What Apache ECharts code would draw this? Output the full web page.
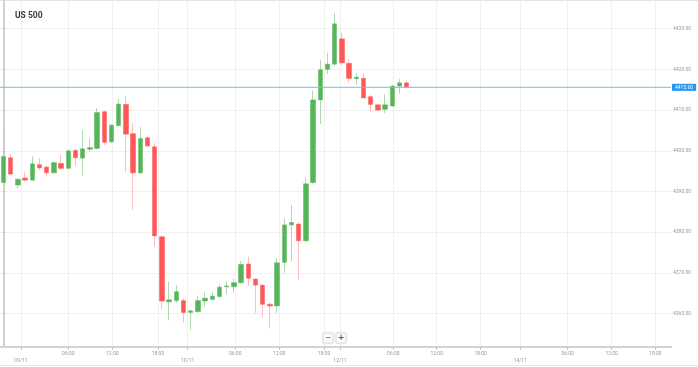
<!DOCTYPE html>
<html>
<head>
<meta charset="utf-8">
<script src="https://cdn.jsdelivr.net/npm/echarts@6/dist/echarts.min.js"></script>
<style>
html,body{margin:0;padding:0;background:#fff;}
#chart{width:698px;height:367px;}
</style>
</head>
<body>
<div id="chart"></div>
<script>
// Hourly candles (index 0 = first visible candle)
const openVals = [4392.2, 4398.3, 4391.6, 4393.3, 4392.8, 4396.6, 4396.0, 4394.6, 4396.9, 4395.7,
  4400.1, 4398.2, 4400.4, 4400.6, 4409.6, 4402.2, 4406.2, 4411.4, 4404.2, 4394.6,
  4403.2, 4401.0, 4378.9, 4362.9, 4363.2, 4363.2, 4360.3, 4360.5, 4363.1, 4363.5,
  4364.2, 4366.6, 4366.6, 4367.6, 4372.2, 4368.5, 4367.0, 4362.3, 4361.9, 4372.6,
  4381.8, 4382.0, 4377.9, 4392.2, 4412.5, 4420.0, 4421.3, 4427.5, 4421.5, 4417.7,
  4417.8, 4413.3, 4411.3, 4410.2, 4411.0, 4415.9, 4416.7];
const closeVals = [4398.6, 4394.3, 4393.0, 4392.8, 4396.8, 4395.8, 4394.6, 4397.1, 4395.7, 4400.0,
  4398.3, 4400.5, 4400.8, 4409.4, 4402.1, 4406.3, 4411.5, 4404.1, 4394.6, 4403.0,
  4401.2, 4379.1, 4363.1, 4363.4, 4365.4, 4360.3, 4360.7, 4363.2, 4363.8, 4364.3,
  4366.5, 4366.8, 4367.6, 4372.1, 4368.7, 4367.0, 4362.3, 4361.9, 4372.5, 4381.8,
  4382.4, 4377.9, 4391.9, 4412.5, 4419.9, 4421.3, 4431.2, 4421.6, 4417.8, 4418.1,
  4413.0, 4411.4, 4410.0, 4411.3, 4415.9, 4416.7, 4415.6];
const lowVals = [4392.0, 4394.0, 4390.8, 4392.4, 4392.6, 4395.3, 4393.8, 4394.5, 4395.3, 4395.5,
  4396.3, 4393.9, 4399.8, 4400.4, 4401.4, 4402.0, 4406.0, 4394.9, 4385.5, 4394.4,
  4400.9, 4376.5, 4361.1, 4358.4, 4362.6, 4357.8, 4356.0, 4360.3, 4361.7, 4363.3,
  4364.0, 4364.7, 4365.2, 4367.4, 4366.8, 4360.2, 4359.0, 4356.4, 4360.2, 4369.9,
  4372.9, 4368.3, 4377.7, 4391.8, 4406.6, 4418.9, 4420.8, 4421.0, 4416.7, 4416.2,
  4412.8, 4409.6, 4409.9, 4409.2, 4410.8, 4414.0, 4415.5];
const highVals = [4405.1, 4399.2, 4393.3, 4394.9, 4398.6, 4398.2, 4396.3, 4397.3, 4399.0, 4400.3,
  4400.4, 4405.1, 4403.0, 4410.5, 4409.9, 4406.5, 4412.7, 4413.5, 4406.8, 4405.8,
  4403.5, 4401.9, 4379.2, 4367.9, 4367.0, 4363.8, 4360.9, 4364.4, 4365.3, 4365.3,
  4367.3, 4367.9, 4368.7, 4373.0, 4374.0, 4368.7, 4367.2, 4362.7, 4373.6, 4383.4,
  4386.7, 4382.4, 4393.3, 4414.9, 4422.3, 4424.1, 4433.9, 4429.0, 4422.5, 4419.0,
  4419.0, 4413.7, 4411.5, 4413.9, 4416.2, 4417.6, 4417.3];

// x-axis ticks (in candle-index units) and their labels
const xTickPos = [2.43, 9.0, 15.11, 21.46, 25.58, 32.19, 38.31, 44.51, 46.74, 54.14, 60.17, 66.28, 71.78, 78.36, 84.47, 90.53];
const xTickLabels = ['09/11', '06:00', '12:00', '18:00', '10/11', '06:00', '12:00', '18:00', '12/11', '06:00', '12:00', '18:00', '14/11', '06:00', '12:00', '18:00'];
// y-axis ticks
const yTicks = [4360, 4370, 4380, 4390, 4400, 4410, 4420, 4430];
const lastPrice = 4415.60;

const xMin = -0.486, xMax = 92.71;
const wickData = openVals.map((o, i) => [i, o, closeVals[i], lowVals[i], highVals[i]]);
const bodyData = openVals.map((o, i) => [i, o, closeVals[i], Math.min(o, closeVals[i]), Math.max(o, closeVals[i])]);

function xLabel(v) {
  for (let k = 0; k < xTickPos.length; k++) {
    if (Math.abs(xTickPos[k] - v) < 1e-6) {
      const t = xTickLabels[k];
      return t.indexOf('/') >= 0 ? '{d|' + t + '}' : t;
    }
  }
  return '';
}

const priceLineColor = '#6cc0f7';
const chart = echarts.init(document.getElementById('chart'), null, {renderer: 'canvas'});
chart.setOption({
  animation: false,
  backgroundColor: '#fff',
  textStyle: {fontFamily: 'Roboto'},
  title: {
    text: 'US 500', left: 10, top: 6,
    textStyle: {fontSize: 8.5, fontWeight: 'bold', color: '#3a3a3a', fontFamily: 'Roboto'}
  },
  grid: {left: 0, right: 27, top: 0, bottom: 20},
  xAxis: {
    type: 'value', min: xMin, max: xMax,
    axisLine: {show: true, lineStyle: {color: '#d2d2d2', width: 2}},
    axisTick: {show: true, customValues: xTickPos, length: 3, lineStyle: {color: '#c4c4c4'}},
    axisLabel: {
      customValues: xTickPos, formatter: xLabel, fontSize: 5, color: '#9a9a9a', margin: 4,
      rich: {d: {fontSize: 5, color: '#9a9a9a', padding: [7, 0, 0, 0]}}
    },
    splitLine: {show: true, lineStyle: {color: '#f0f0f0', width: 1}}
  },
  yAxis: {
    type: 'value', position: 'right', min: 4351.81, max: 4437.05, scale: true,
    axisLine: {show: true, lineStyle: {color: '#d2d2d2', width: 2}},
    axisTick: {show: true, customValues: yTicks, length: 2, lineStyle: {color: '#c4c4c4'}},
    axisLabel: {customValues: yTicks, formatter: v => v.toFixed(2), fontSize: 5, color: '#9a9a9a', margin: 2},
    splitLine: {show: true, lineStyle: {color: '#f0f0f0', width: 1}}
  },
  series: [
    {
      type: 'candlestick', name: 'wick', data: wickData, encode: {x: 0, y: [1, 2, 3, 4]},
      barWidth: 1,
      itemStyle: {color: '#aedcae', color0: '#ffbcbc', borderColor: '#aedcae', borderColor0: '#ffbcbc', borderWidth: 1}
    },
    {
      type: 'candlestick', name: 'body', data: bodyData, encode: {x: 0, y: [1, 2, 3, 4]},
      barWidth: 5,
      itemStyle: {color: '#55b559', color0: '#ff5656', borderColor: '#5cb85f', borderColor0: '#ff5a5a', borderWidth: 0.5}
    },
    {
      type: 'line', name: 'last', z: 5, silent: true,
      data: [[xMin, lastPrice], [xMax, lastPrice]],
      showSymbol: false, symbol: 'none',
      lineStyle: {color: priceLineColor, width: 1},
      itemStyle: {color: priceLineColor},
      endLabel: {
        show: true, distance: 1, formatter: () => lastPrice.toFixed(2),
        backgroundColor: '#2196f3', color: '#fff', fontSize: 5, padding: [1, 3, 1, 3]
      }
    }
  ],
  graphic: [
    {type: 'line', shape: {x1: 0, y1: 0.5, x2: 698, y2: 0.5}, style: {stroke: '#e4e4e4', lineWidth: 1}, silent: true},
    {type: 'line', shape: {x1: 0, y1: 365.5, x2: 698, y2: 365.5}, style: {stroke: '#e8e8e8', lineWidth: 1}, silent: true},
    {type: 'rect', shape: {x: 323, y: 333, width: 10, height: 10, r: 1}, style: {fill: '#fff', stroke: '#e2e2e2', lineWidth: 1, shadowBlur: 2, shadowColor: 'rgba(0,0,0,0.12)'}, z: 10},
    {type: 'text', x: 328, y: 338, style: {text: '−', fontSize: 8, fill: '#555', align: 'center', verticalAlign: 'middle', fontFamily: 'DejaVu Sans'}, z: 11},
    {type: 'rect', shape: {x: 336, y: 333, width: 10, height: 10, r: 1}, style: {fill: '#fff', stroke: '#e2e2e2', lineWidth: 1, shadowBlur: 2, shadowColor: 'rgba(0,0,0,0.12)'}, z: 10},
    {type: 'text', x: 341, y: 338, style: {text: '+', fontSize: 8, fill: '#555', align: 'center', verticalAlign: 'middle', fontFamily: 'DejaVu Sans', fontWeight: 'bold'}, z: 11}
  ]
});
</script>
</body>
</html>
